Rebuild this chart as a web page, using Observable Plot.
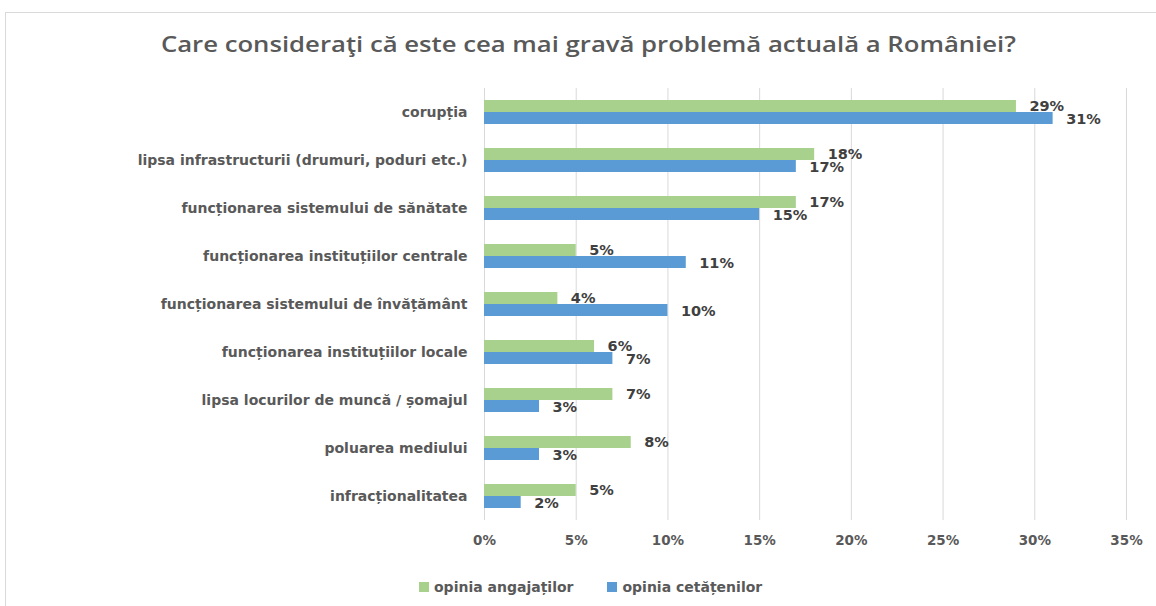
<!DOCTYPE html>
<html>
<head>
<meta charset="utf-8">
<script src="https://cdn.jsdelivr.net/npm/d3@7"></script>
<script src="https://cdn.jsdelivr.net/npm/@observablehq/plot@0.6"></script>
<style>
  html, body { margin: 0; padding: 0; background: #fff; }
  body { width: 1156px; height: 606px; position: relative; overflow: hidden; }
  #frame { position: absolute; left: 5px; top: 12px; width: 1200px; height: 700px;
           border-left: 1px solid #d9d9d9; border-top: 1px solid #d9d9d9; }
  #titlewrap { position: absolute; left: 0; top: 28px; width: 1176px; text-align: center; }
  #title { display: inline-block; font-family: "Open Sans", Lato, sans-serif; font-size: 21px; line-height: 32px;
           color: #595959; font-weight: 600; white-space: nowrap; transform-origin: 50% 50%; }
  #chart { position: absolute; left: 0; top: 70px; }
  #legend { position: absolute; left: 419px; top: 578px; font-family: "DejaVu Sans", sans-serif;
            font-size: 14px; font-weight: bold; color: #595959; white-space: nowrap; line-height: 18px; }
  #legend span.item { display: inline-flex; align-items: center; margin-right: 34px; }
  #legend span.sw { display: inline-block; width: 10px; height: 10px; margin-right: 5px; }
</style>
</head>
<body>
<div id="frame"></div>
<div id="titlewrap"><span id="title">Care consideraţi că este cea mai gravă problemă actuală a României?</span></div>
<div id="chart"></div>
<div id="legend"></div>
<script>
const categories = [
  "corupția",
  "lipsa infrastructurii (drumuri, poduri etc.)",
  "funcționarea sistemului de sănătate",
  "funcționarea instituțiilor centrale",
  "funcționarea sistemului de învățământ",
  "funcționarea instituțiilor locale",
  "lipsa locurilor de muncă / șomajul",
  "poluarea mediului",
  "infracționalitatea"
];
const seriesNames = ["opinia angajaților", "opinia cetățenilor"];
const angajati = [29, 18, 17, 5, 4, 6, 7, 8, 5];
const cetateni = [31, 17, 15, 11, 10, 7, 3, 3, 2];
const xTicks = [0, 5, 10, 15, 20, 25, 30, 35];
const colors = ["#A9D18E", "#5B9BD5"];

const greenRows = categories.map((c, i) => ({cat: c, v: angajati[i], s: seriesNames[0]}));
const blueRows = categories.map((c, i) => ({cat: c, v: cetateni[i], s: seriesNames[1]}));

const font = "DejaVu Sans, sans-serif";

const chart = Plot.plot({
  width: 1156,
  height: 490,
  marginTop: 18,
  marginBottom: 40,
  marginLeft: 484,
  marginRight: 30,
  style: {fontFamily: font, background: "transparent"},
  x: {domain: [0, 35], label: null},
  y: {domain: categories, paddingInner: 0.5, paddingOuter: 0.25, label: null},
  marks: [
    Plot.gridX(xTicks, {stroke: "#d9d9d9", strokeOpacity: 1, strokeWidth: 1}),
    Plot.barX(greenRows, {x: "v", y: "cat", fill: colors[0], insetBottom: 12}),
    Plot.barX(blueRows, {x: "v", y: "cat", fill: colors[1], insetTop: 12}),
    Plot.text(greenRows, {x: "v", y: "cat", text: d => d.v + "%", dx: 13, dy: -6, textAnchor: "start",
      fill: "#404040", fontSize: 14.5, fontWeight: "bold", fontFamily: font}),
    Plot.text(blueRows, {x: "v", y: "cat", text: d => d.v + "%", dx: 13, dy: 7, textAnchor: "start",
      fill: "#404040", fontSize: 14.5, fontWeight: "bold", fontFamily: font}),
    Plot.axisX({ticks: xTicks, tickFormat: d => d + "%", tickSize: 0, tickPadding: 15, fontSize: 13.5,
      fontWeight: "bold", fill: "#595959", fontFamily: font, label: null}),
    Plot.axisY({tickSize: 0, tickPadding: 17, fontSize: 14, fontWeight: "bold", fill: "#595959",
      fontFamily: font, label: null})
  ]
});
document.getElementById("chart").appendChild(chart);

const legend = document.getElementById("legend");
seriesNames.forEach((name, i) => {
  const item = document.createElement("span");
  item.className = "item";
  const sw = document.createElement("span");
  sw.className = "sw";
  sw.style.background = colors[i];
  item.appendChild(sw);
  item.appendChild(document.createTextNode(name));
  legend.appendChild(item);
});

// stretch the title horizontally like the reference
const title = document.getElementById("title");
const w = title.getBoundingClientRect().width;
title.style.transform = `scaleX(${855 / w})`;
</script>
</body>
</html>
